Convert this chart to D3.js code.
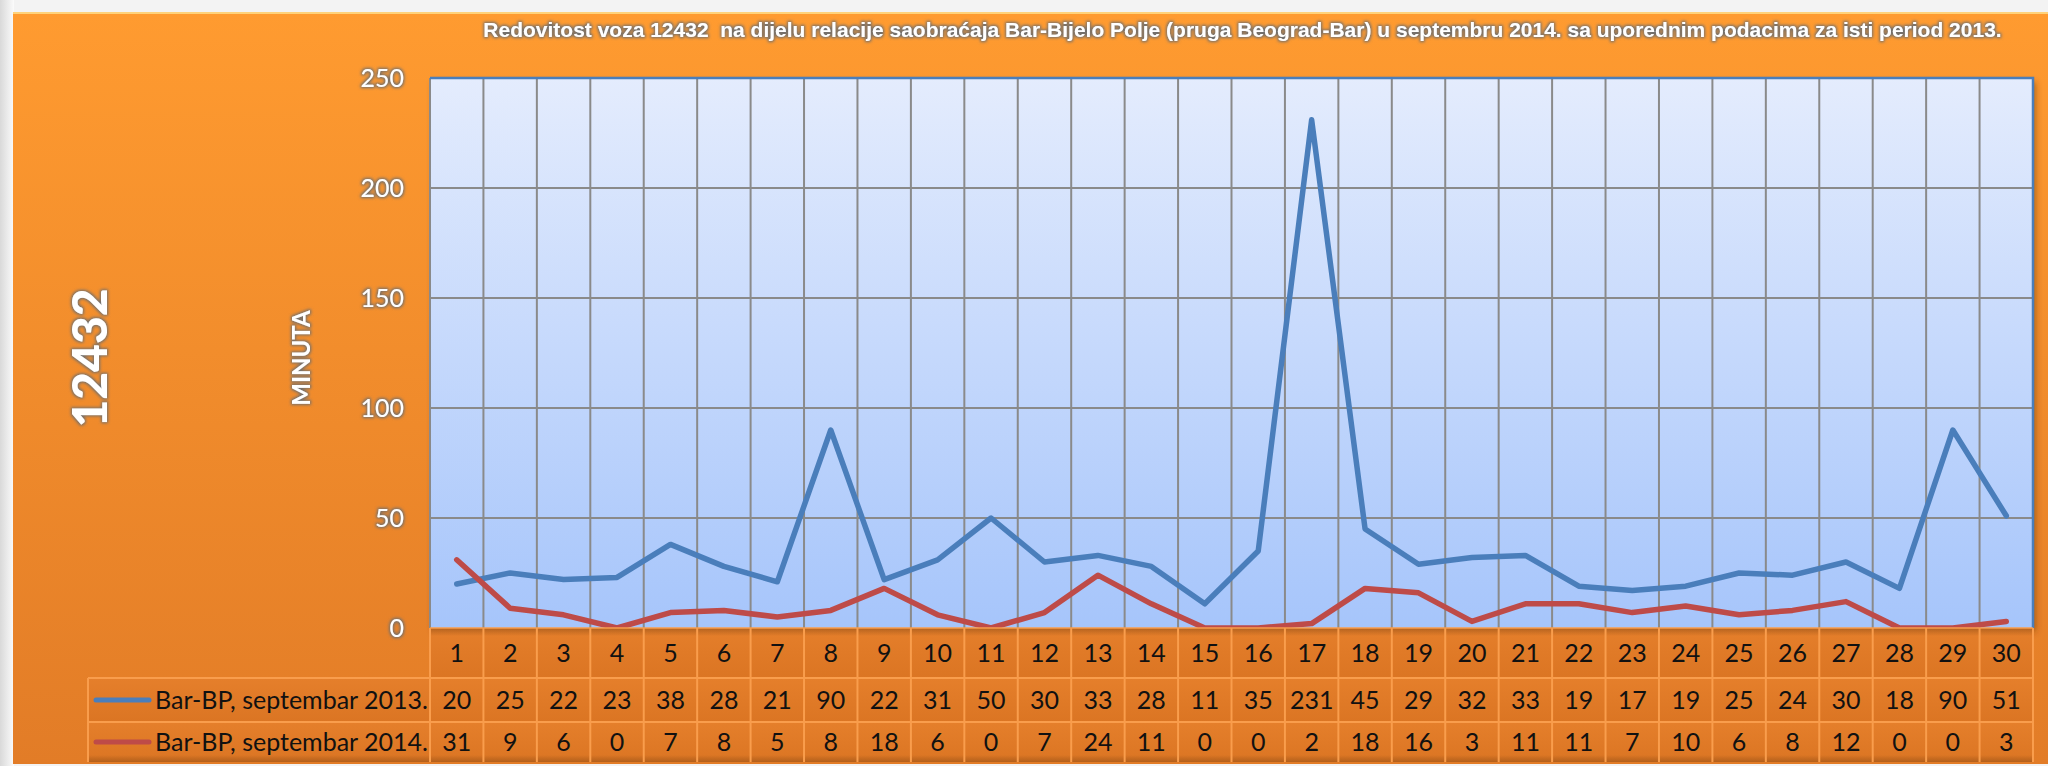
<!DOCTYPE html>
<html>
<head>
<meta charset="utf-8">
<script src="https://cdn.jsdelivr.net/npm/d3@7"></script>
<style>
  html, body { margin: 0; padding: 0; background: #efefef; }
  svg { display: block; }
</style>
</head>
<body>
<div id="w"></div>
<script>
// data
var days = d3.range(1, 31).map(String)
var seriesNames = ["Bar-BP, septembar 2013.", "Bar-BP, septembar 2014."]
var delay2013 = [20,25,22,23,38,28,21,90,22,31,50,30,33,28,11,35,231,45,29,32,33,19,17,19,25,24,30,18,90,51]
var delay2014 = [31,9,6,0,7,8,5,8,18,6,0,7,24,11,0,0,2,18,16,3,11,11,7,10,6,8,12,0,0,3]
var yTicks = [0,50,100,150,200,250]
var colors = ["#4a7ebb", "#be4b48"]

var W = 2048, H = 766
var svg = d3.select("#w").append("svg").attr("width", W).attr("height", H)
var defs = svg.append("defs")

// gradients
var g1 = defs.append("linearGradient").attr("id","frameGrad").attr("x1",0).attr("y1",0).attr("x2",0).attr("y2",1)
g1.append("stop").attr("offset","0%").attr("stop-color","#ff9b30")
g1.append("stop").attr("offset","100%").attr("stop-color","#e27c27")
var g2 = defs.append("linearGradient").attr("id","plotGrad").attr("x1",0).attr("y1",0).attr("x2",0).attr("y2",1)
g2.append("stop").attr("offset","0%").attr("stop-color","#e4ecfd")
g2.append("stop").attr("offset","100%").attr("stop-color","#a6c5fb")
var g3 = defs.append("linearGradient").attr("id","cellGrad").attr("x1",0).attr("y1",0).attr("x2",0).attr("y2",1)
g3.append("stop").attr("offset","0%").attr("stop-color","#e57f2b")
g3.append("stop").attr("offset","100%").attr("stop-color","#db7523")
var g4 = defs.append("linearGradient").attr("id","bgLeft").attr("x1",0).attr("y1",0).attr("x2",1).attr("y2",0)
g4.append("stop").attr("offset","0%").attr("stop-color","#d9d9d9")
g4.append("stop").attr("offset","100%").attr("stop-color","#fbfbfb")

// grey glow for white labels
var glow = defs.append("filter").attr("id","glow").attr("x","-20%").attr("y","-40%").attr("width","140%").attr("height","180%")
glow.append("feMorphology").attr("in","SourceAlpha").attr("operator","dilate").attr("radius",1).attr("result","d")
glow.append("feGaussianBlur").attr("in","d").attr("stdDeviation",1.6).attr("result","b")
glow.append("feFlood").attr("flood-color","#6e6e6e").attr("result","c")
glow.append("feComposite").attr("in","c").attr("in2","b").attr("operator","in").attr("result","s")
var gm = glow.append("feMerge")
gm.append("feMergeNode").attr("in","s")
gm.append("feMergeNode").attr("in","SourceGraphic")

var shadow = defs.append("filter").attr("id","shadow").attr("x","-5%").attr("y","-5%").attr("width","110%").attr("height","115%")
shadow.append("feDropShadow").attr("dx",3).attr("dy",4).attr("stdDeviation",3).attr("flood-color","#5a2a00").attr("flood-opacity",0.45)

// background + frame
svg.append("rect").attr("x",0).attr("y",0).attr("width",W).attr("height",H).attr("fill","#f3f3f3")
svg.append("rect").attr("x",0).attr("y",0).attr("width",14).attr("height",H).attr("fill","url(#bgLeft)")
svg.append("rect").attr("x",13).attr("y",12).attr("width",W-13).attr("height",752).attr("fill","url(#frameGrad)")
svg.append("line").attr("x1",13).attr("x2",W).attr("y1",13).attr("y2",13).attr("stroke","#ffd27a").attr("stroke-width",2)

// scales
var pLeft = 430, pRight = 2033, pTop = 78, pBottom = 628
var x = d3.scaleBand().domain(days).range([pLeft, pRight]).padding(0)
var y = d3.scaleLinear().domain([0, 250]).range([pBottom, pTop])
var bw = x.bandwidth()

// plot area
svg.append("rect").attr("x",pLeft).attr("y",pTop).attr("width",pRight-pLeft).attr("height",pBottom-pTop)
  .attr("fill","url(#plotGrad)").attr("filter","url(#shadow)")

// grid lines
svg.append("g").selectAll("line").data(yTicks.filter(function(d){return d>0})).enter().append("line")
  .attr("x1",pLeft).attr("x2",pRight).attr("y1",function(d){return y(d)}).attr("y2",function(d){return y(d)})
  .attr("stroke","#8a8a8a").attr("stroke-width",2)
svg.append("g").selectAll("line").data(days.slice(1)).enter().append("line")
  .attr("x1",function(d){return x(d)}).attr("x2",function(d){return x(d)})
  .attr("y1",pTop).attr("y2",pBottom)
  .attr("stroke","#8a8a8a").attr("stroke-width",2)

// borders
svg.append("line").attr("x1",pLeft).attr("x2",pLeft).attr("y1",pTop).attr("y2",pBottom).attr("stroke","#8a8a8a").attr("stroke-width",2)
svg.append("path").attr("d","M"+pLeft+","+pTop+"H"+pRight+"V"+pBottom).attr("fill","none").attr("stroke","#4a7ebb").attr("stroke-width",2.5)

// y axis labels
var yAxis = d3.axisLeft(y).tickValues(yTicks).tickSize(0).tickPadding(26)
var ya = svg.append("g").attr("transform","translate("+pLeft+",0)").call(yAxis)
ya.select(".domain").remove()
ya.selectAll("text").attr("fill","#ffffff").attr("font-family","Lato, 'Open Sans', sans-serif")
  .attr("font-size",25).attr("filter","url(#glow)")

// titles
svg.append("text").attr("x",(pLeft+pRight)/2 + 11).attr("y",37).attr("text-anchor","middle")
  .attr("font-family","'Liberation Sans', Arial, sans-serif").attr("font-weight","bold").attr("font-size",21)
  .attr("fill","#ffffff").attr("filter","url(#glow)")
  .text("Redovitost voza 12432\u00a0 na dijelu relacije saobraćaja Bar-Bijelo Polje (pruga Beograd-Bar) u septembru 2014. sa uporednim podacima za isti period 2013.")
svg.append("text").attr("transform","translate(107,358) rotate(-90)").attr("text-anchor","middle")
  .attr("font-family","Lato, sans-serif").attr("font-weight","900").attr("font-size",48)
  .attr("fill","#ffffff").attr("filter","url(#glow)").text("12432")
svg.append("text").attr("transform","translate(310,358) rotate(-90)").attr("text-anchor","middle")
  .attr("font-family","Lato, sans-serif").attr("font-weight","bold").attr("font-size",24)
  .attr("fill","#ffffff").attr("filter","url(#glow)").text("MINUTA")

// lines
var series = [delay2013, delay2014]
var line = d3.line().x(function(d,i){return x(days[i]) + bw/2}).y(function(d){return y(d)})
svg.append("g").selectAll("path").data(series).enter().append("path")
  .attr("d", line).attr("fill","none")
  .attr("stroke",function(d,i){return colors[i]}).attr("stroke-width",5.5)
  .attr("stroke-linejoin","round").attr("stroke-linecap","round")

// data table
var rowY = [628, 678, 722, 762]
var tableLeft = 88
var tbl = svg.append("g")
tbl.append("rect").attr("x",pLeft).attr("y",rowY[0]).attr("width",pRight-pLeft).attr("height",rowY[1]-rowY[0]).attr("fill","url(#cellGrad)")
tbl.append("rect").attr("x",tableLeft).attr("y",rowY[1]).attr("width",pRight-tableLeft).attr("height",rowY[2]-rowY[1]).attr("fill","url(#cellGrad)")
tbl.append("rect").attr("x",tableLeft).attr("y",rowY[2]).attr("width",pRight-tableLeft).attr("height",rowY[3]-rowY[2]).attr("fill","url(#cellGrad)")
// shadow under plot and at table bottom
var sg = defs.append("linearGradient").attr("id","topShade").attr("x1",0).attr("y1",0).attr("x2",0).attr("y2",1)
sg.append("stop").attr("offset","0%").attr("stop-color","#8a4a14").attr("stop-opacity",0.55)
sg.append("stop").attr("offset","100%").attr("stop-color","#8a4a14").attr("stop-opacity",0)
tbl.append("rect").attr("x",pLeft).attr("y",rowY[0]).attr("width",pRight-pLeft).attr("height",8).attr("fill","url(#topShade)")
var bg = defs.append("linearGradient").attr("id","botShade").attr("x1",0).attr("y1",0).attr("x2",0).attr("y2",1)
bg.append("stop").attr("offset","0%").attr("stop-color","#8a4a14").attr("stop-opacity",0)
bg.append("stop").attr("offset","100%").attr("stop-color","#8a4a14").attr("stop-opacity",0.5)
tbl.append("rect").attr("x",tableLeft).attr("y",rowY[3]-7).attr("width",pRight-tableLeft).attr("height",7).attr("fill","url(#botShade)")

var cellStroke = "#f99d4c"
tbl.selectAll("line.v").data(days.concat(["end"])).enter().append("line")
  .attr("x1",function(d){return d==="end" ? pRight : x(d)}).attr("x2",function(d){return d==="end" ? pRight : x(d)})
  .attr("y1",rowY[0]).attr("y2",rowY[3]).attr("stroke",cellStroke).attr("stroke-width",2)
tbl.append("line").attr("x1",tableLeft).attr("x2",tableLeft).attr("y1",rowY[1]).attr("y2",rowY[3]).attr("stroke",cellStroke).attr("stroke-width",2)
tbl.append("line").attr("x1",tableLeft).attr("x2",pRight).attr("y1",rowY[1]).attr("y2",rowY[1]).attr("stroke",cellStroke).attr("stroke-width",2)
tbl.append("line").attr("x1",tableLeft).attr("x2",pRight).attr("y1",rowY[2]).attr("y2",rowY[2]).attr("stroke",cellStroke).attr("stroke-width",2)
tbl.append("line").attr("x1",pLeft).attr("x2",pRight).attr("y1",rowY[0]).attr("y2",rowY[0]).attr("stroke",cellStroke).attr("stroke-width",1.5)

var font = "Lato, 'Open Sans', sans-serif"
tbl.selectAll("text.cat").data(days).enter().append("text")
  .attr("x",function(d){return x(d)+bw/2}).attr("y",(rowY[0]+rowY[1])/2).attr("dy","0.36em")
  .attr("text-anchor","middle").attr("font-family",font).attr("font-size",25).attr("fill","#111").text(function(d){return d})
series.forEach(function(s, k){
  var cy = (rowY[k+1]+rowY[k+2])/2
  tbl.selectAll("text.v"+k).data(s).enter().append("text")
    .attr("x",function(d,i){return x(days[i])+bw/2}).attr("y",cy).attr("dy","0.36em")
    .attr("text-anchor","middle").attr("font-family",font).attr("font-size",25).attr("fill","#111").text(function(d){return d})
  tbl.append("line").attr("x1",96).attr("x2",149).attr("y1",cy).attr("y2",cy)
    .attr("stroke",colors[k]).attr("stroke-width",5).attr("stroke-linecap","round")
  tbl.append("text").attr("x",155).attr("y",cy).attr("dy","0.36em").attr("font-family",font).attr("font-size",25)
    .attr("fill","#111").text(seriesNames[k])
})
</script>
</body>
</html>
